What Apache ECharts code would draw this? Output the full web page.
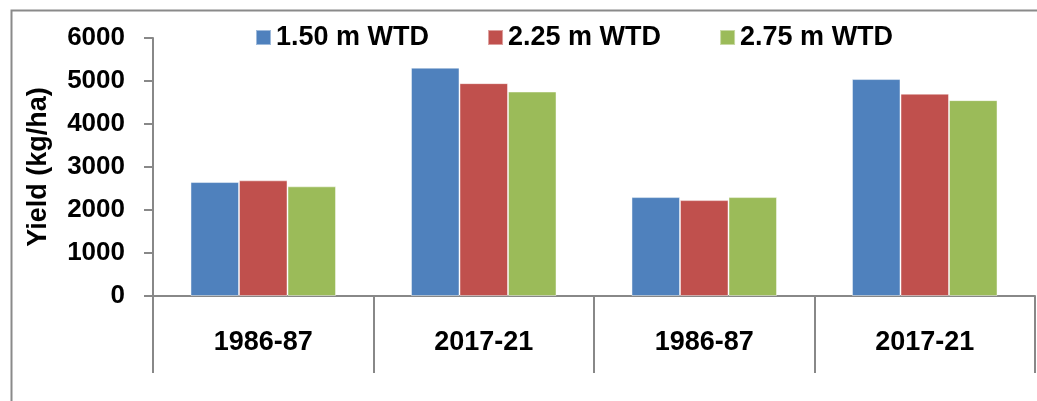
<!DOCTYPE html>
<html>
<head>
<meta charset="utf-8">
<script src="https://cdn.jsdelivr.net/npm/echarts@6/dist/echarts.min.js"></script>
<style>
html,body{margin:0;padding:0;background:#fff;}
#c{width:1037px;height:401px;}
</style>
</head>
<body>
<div id="c"></div>
<script>
const categories = ['1986-87', '2017-21', '1986-87', '2017-21'];
const seriesNames = ['1.50 m WTD', '2.25 m WTD', '2.75 m WTD'];
const wtd150 = [2650, 5310, 2300, 5045];
const wtd225 = [2690, 4950, 2230, 4705];
const wtd275 = [2550, 4755, 2300, 4555];
const colors = ['#4F81BD', '#C0504D', '#9BBB59'];
const yTitle = 'Yield (kg/ha)';

const chart = echarts.init(document.getElementById('c'));
const font = 'Arial, "Liberation Sans", sans-serif';
const values = [wtd150, wtd225, wtd275];
chart.setOption({
  animation: false,
  backgroundColor: '#fff',
  graphic: [{
    type: 'rect', left: 9, top: 8, silent: true, z: -1,
    shape: {width: 1040, height: 400},
    style: {fill: 'none', stroke: '#8a8a8a', lineWidth: 2}
  }],
  legend: {
    left: 250, top: 19,
    itemWidth: 15, itemHeight: 15, itemGap: 58,
    icon: 'rect',
    textStyle: {fontFamily: font, fontWeight: 'bold', fontSize: 27, color: '#000', padding: [0, 0, 0, 0]},
    data: seriesNames
  },
  grid: {left: 153, right: 2, top: 38, bottom: 105, containLabel: false},
  xAxis: {
    type: 'category',
    data: categories,
    boundaryGap: true,
    axisLine: {lineStyle: {color: '#888', width: 2}},
    axisTick: {show: true, interval: 0, length: 77, lineStyle: {color: '#888', width: 2}},
    axisLabel: {interval: 0, margin: 33, fontFamily: font, fontWeight: 'bold', fontSize: 27, color: '#000'}
  },
  yAxis: {
    type: 'value', min: 0, max: 6000, interval: 1000,
    name: yTitle, nameLocation: 'middle', nameGap: 101, nameRotate: 90,
    nameTextStyle: {fontFamily: font, fontWeight: 'bold', fontSize: 27, color: '#000'},
    axisLine: {show: true, lineStyle: {color: '#888', width: 2}},
    axisTick: {show: true, length: 9, lineStyle: {color: '#888', width: 2}},
    splitLine: {show: false},
    axisLabel: {margin: 28, fontFamily: font, fontWeight: 'bold', fontSize: 26, color: '#000',
      formatter: v => String(v)}
  },
  series: seriesNames.map((n, i) => ({
    name: n, type: 'bar', data: values[i],
    barGap: '0%', barCategoryGap: '34%',
    itemStyle: {color: colors[i], borderColor: 'rgba(255,255,255,0.45)', borderWidth: 1}
  }))
});
</script>
</body>
</html>
